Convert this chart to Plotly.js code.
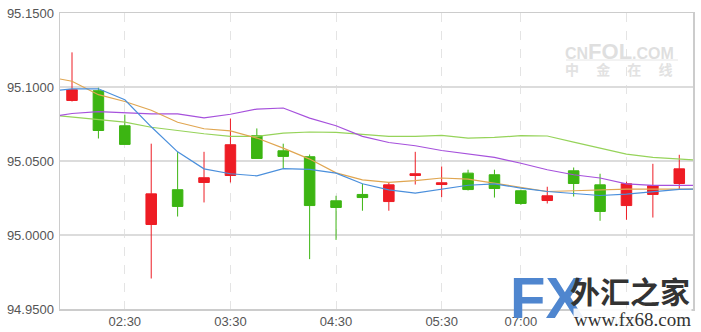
<!DOCTYPE html>
<html>
<head>
<meta charset="utf-8">
<script src="https://cdn.plot.ly/plotly-3.0.1.min.js"></script>
<style>
html,body{margin:0;padding:0;background:#fff;}
#chart{width:701px;height:332px;}
</style>
</head>
<body>
<div id="chart"></div>
<script>
// Candle data (index positions 0..23)
var openP  = [95.0909,95.0975,95.0738,95.0071,95.0306,95.0355,95.0402,95.0671,95.0569,95.0529,95.0231,95.0274,95.0226,95.0402,95.0341,95.0418,95.0407,95.0299,95.0233,95.0434,95.0339,95.0199,95.0274,95.0348];
var highP  = [95.1234,95.0995,95.0813,95.0617,95.0560,95.0562,95.0787,95.0720,95.0617,95.0544,95.0265,95.0346,95.0355,95.0562,95.0463,95.0441,95.0441,95.0306,95.0326,95.0456,95.0414,95.0360,95.0481,95.0542];
var lowP   = [95.0902,95.0652,95.0612,94.9706,95.0125,95.0220,95.0355,95.0517,95.0452,94.9837,94.9967,95.0164,95.0164,95.0341,95.0256,95.0301,95.0253,95.0204,95.0213,95.0260,95.0096,95.0103,95.0118,95.0307];
var closeP = [95.0982,95.0706,95.0612,95.0278,95.0193,95.0387,95.0610,95.0517,95.0531,95.0199,95.0186,95.0253,95.0339,95.0414,95.0353,95.0307,95.0314,95.0213,95.0265,95.0348,95.0159,95.0346,95.0333,95.0447];

// Moving averages (first value = previous off-screen candle, last = next)
var maBlue   = [95.0968,95.0988,95.0988,95.0914,95.0731,95.0562,95.0447,95.0414,95.0400,95.0449,95.0444,95.0418,95.0346,95.0305,95.0283,95.0310,95.0336,95.0346,95.0317,95.0294,95.0283,95.0267,95.0276,95.0294,95.0308,95.0312];
var maOrange = [95.1072,95.1039,95.0948,95.0902,95.0843,95.0762,95.0718,95.0704,95.0655,95.0587,95.0513,95.0420,95.0373,95.0355,95.0368,95.0385,95.0378,95.0351,95.0324,95.0294,95.0299,95.0306,95.0310,95.0310,95.0310,95.0310];
var maGreen  = [95.0815,95.0798,95.0779,95.0763,95.0728,95.0704,95.0684,95.0667,95.0666,95.0689,95.0696,95.0693,95.0679,95.0666,95.0666,95.0673,95.0654,95.0659,95.0671,95.0669,95.0628,95.0587,95.0547,95.0524,95.0513,95.0502];
var maPurple = [95.0793,95.0821,95.0833,95.0824,95.0819,95.0819,95.0792,95.0816,95.0851,95.0858,95.0790,95.0738,95.0666,95.0625,95.0603,95.0571,95.0546,95.0525,95.0485,95.0441,95.0407,95.0385,95.0346,95.0335,95.0335,95.0335];

var tickPos   = [2, 6, 10, 14, 17, 21];
var tickLabel = ['02:30','03:30','04:30','05:30','07:00','08:00'];

var idx = openP.map(function(_, i){ return i; });
var maIdx = maBlue.map(function(_, i){ return i - 1; });

var RED = '#ee1c24', GREEN = '#3cb512';

var traces = [
  {type:'candlestick', x: idx, open: openP, high: highP, low: lowP, close: closeP,
   increasing:{line:{color:RED,width:1}, fillcolor:RED},
   decreasing:{line:{color:GREEN,width:1}, fillcolor:GREEN},
   whiskerwidth:0, hoverinfo:'skip', showlegend:false},
  {type:'scatter', mode:'lines', x: maIdx, y: maGreen, line:{color:'#96d35a', width:1.2}, hoverinfo:'skip', showlegend:false},
  {type:'scatter', mode:'lines', x: maIdx, y: maPurple, line:{color:'#a651dc', width:1.2}, hoverinfo:'skip', showlegend:false},
  {type:'scatter', mode:'lines', x: maIdx, y: maOrange, line:{color:'#e0a651', width:1.2}, hoverinfo:'skip', showlegend:false},
  {type:'scatter', mode:'lines', x: maIdx, y: maBlue, line:{color:'#4a8fdc', width:1.2}, hoverinfo:'skip', showlegend:false}
];

var NB = '\u3000\u00a0';
var px = function(x){ return (x-60)/633; };
var py = function(y){ return (309-y)/296; };
var layout = {
  width:701, height:332,
  margin:{l:60, r:8, t:13, b:23},
  paper_bgcolor:'#fff', plot_bgcolor:'#fff',
  font:{family:'Liberation Sans, Arial, sans-serif', size:13, color:'#555'},
  boxgap:0.43,
  xaxis:{range:[-0.455, 23.52], tickvals: tickPos, ticktext: tickLabel,
         showgrid:true, gridcolor:'#e4e4e4', griddash:'dash', gridwidth:1,
         showline:true, linecolor:'#cccccc', linewidth:1.5, mirror:true,
         zeroline:false, ticks:'', rangeslider:{visible:false}, fixedrange:true,
         tickfont:{size:13, color:'#555'}},
  yaxis:{range:[94.95, 95.15], dtick:0.05, tick0:94.95, tickformat:'.4f',
         showgrid:true, gridcolor:'#dcdcdc', gridwidth:1.2,
         showline:true, linecolor:'#cccccc', linewidth:1.5, mirror:true,
         zeroline:false, ticks:'', fixedrange:true, ticklabelstandoff:2,
         tickfont:{size:13, color:'#555'}},
  shapes:[
    {type:'line', xref:'paper', yref:'paper', x0:px(566), x1:px(678), y0:py(60), y1:py(60),
     line:{color:'#e6e6e6', width:1}}
  ],
  annotations:[
    {xref:'paper', yref:'paper', xanchor:'left', align:'left', x:px(563), y:py(51), yanchor:'middle',
     text:'<b>CN<span style="font-size:22px">FOL</span>.COM</b>', showarrow:false,
     font:{family:'Liberation Sans, Arial, sans-serif', size:16, color:'#dfdfdf'}},
    {xref:'paper', yref:'paper', xanchor:'left', align:'left', x:px(563), y:py(69), yanchor:'middle',
     text:'<b>中'+NB+'金'+NB+'在'+NB+'线</b>', showarrow:false,
     font:{family:'Noto Sans CJK SC, sans-serif', size:14, color:'#e2e2e2'}},
    {xref:'paper', yref:'paper', xanchor:'left', yanchor:'middle', x:px(508), y:py(297),
     text:'<b>FX</b>', showarrow:false,
     font:{family:'Liberation Sans, Arial, sans-serif', size:58, color:'#4f86cf'}},
    {xref:'paper', yref:'paper', xanchor:'left', yanchor:'middle', x:px(568), y:py(290),
     text:'<b>外汇之家</b>', showarrow:false,
     font:{family:'Noto Sans CJK SC, sans-serif', size:30, color:'#333'}},
    {xref:'paper', yref:'paper', xanchor:'left', yanchor:'middle', x:px(573), y:py(320),
     text:'www.fx68.com', showarrow:false, bgcolor:'rgba(255,255,255,0.9)', borderpad:0,
     font:{family:'Liberation Serif, serif', size:19, color:'#333'}}
  ]
};

Plotly.newPlot('chart', traces, layout, {displayModeBar:false, staticPlot:true});
</script>
</body>
</html>
